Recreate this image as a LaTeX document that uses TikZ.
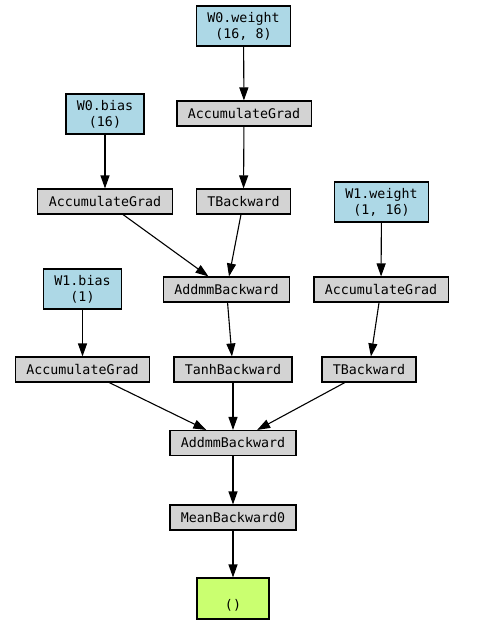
\documentclass[tikz,border=0pt]{standalone}
\usepackage{fontspec}
\newfontfamily\dvmono{DejaVu Sans Mono}
\usetikzlibrary{arrows.meta}
\definecolor{lblue}{RGB}{173,216,230}
\definecolor{lgrey}{RGB}{211,211,211}
\definecolor{lgreen}{RGB}{202,255,112}
\tikzset{
  base/.style={draw=black, line width=1.1pt, inner xsep=11pt, inner ysep=0pt, align=center,
    font=\dvmono\fontsize{13.3}{16}\selectfont, text=black},
  fn/.style={base, fill=lgrey, minimum height=25pt},
  param/.style={base, fill=lblue, minimum height=40pt},
  outbox/.style={base, fill=lgreen, minimum height=41pt, minimum width=72pt},
  edge/.style={line width=1.1pt, -{Triangle[length=13pt,width=9pt]}}
}
\begin{document}
\begin{tikzpicture}[x=1pt,y=-1pt]
\useasboundingbox (0,0) rectangle (486,630);
\node[param] (w0w) at (243.5,26) {W0.weight\\(16, 8)};
\node[fn] (ag1) at (244,113.5) {AccumulateGrad};
\node[param] (w0b) at (105,114) {W0.bias\\(16)};
\node[fn] (ag2) at (105,201.5) {AccumulateGrad};
\node[fn] (tb1) at (243.5,201.5) {TBackward};
\node[param] (w1w) at (381.5,202) {W1.weight\\(1, 16)};
\node[fn] (addmm1) at (226.5,289.5) {AddmmBackward};
\node[param] (w1b) at (82.5,289) {W1.bias\\(1)};
\node[fn] (ag3) at (381,289.5) {AccumulateGrad};
\node[fn] (ag4) at (82.5,369.5) {AccumulateGrad};
\node[fn] (tanh) at (233,369.5) {TanhBackward};
\node[fn] (tb2) at (369,369.5) {TBackward};
\node[fn] (addmm2) at (233,443) {AddmmBackward};
\node[fn] (mean) at (233,517.5) {MeanBackward0};
\node[outbox] (out) at (233,598.5) {\mbox{}\\[7pt]()};
\draw[edge] (w0w) -- (ag1);
\draw[edge] (ag1) -- (tb1);
\draw[edge] (w0b) -- (ag2);
\draw[edge] (ag2) -- (addmm1);
\draw[edge] (tb1) -- (addmm1);
\draw[edge] (w1w) -- (ag3);
\draw[edge] (ag3) -- (tb2);
\draw[edge] (w1b) -- (ag4);
\draw[edge] (addmm1) -- (tanh);
\draw[edge] (ag4) -- (addmm2);
\draw[edge] (tanh) -- (addmm2);
\draw[edge] (tb2) -- (addmm2);
\draw[edge] (addmm2) -- (mean);
\draw[edge] (mean) -- (out);
\end{tikzpicture}
\end{document}
